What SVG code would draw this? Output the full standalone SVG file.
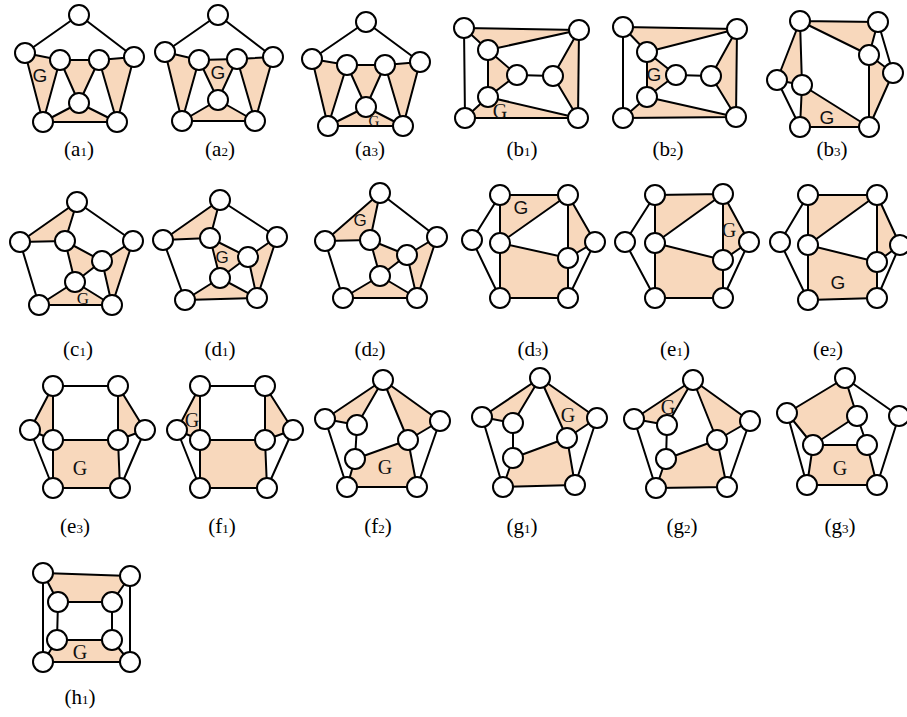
<svg xmlns="http://www.w3.org/2000/svg" width="907" height="717" viewBox="0 0 907 717">
<style>
.f{fill:#F8D8BC;stroke:none}
.e path{fill:none;stroke:#000;stroke-width:2;stroke-linecap:round}
circle{fill:#fff;stroke:#000;stroke-width:2}
.gs{font-family:"Liberation Sans","DejaVu Sans",sans-serif;font-size:19px;text-anchor:middle;dominant-baseline:central;fill:#111}
.gt{font-family:"Liberation Serif","DejaVu Serif",serif;font-size:20px;text-anchor:middle;dominant-baseline:central;fill:#111}
.lb{font-family:"Liberation Serif","DejaVu Serif",serif;font-size:21px;text-anchor:middle;fill:#000}
.lb tspan{font-size:13px}
</style>
<rect width="907" height="717" fill="#fff"/>

<!-- a1 -->
<g id="graph-a1">
<g class="faces"><polygon class="f" points="25,53 60,60 43,122"/><polygon class="f" points="60,60 99,60 79,103"/><polygon class="f" points="99,60 134,57 117,122"/><polygon class="f" points="79,103 43,122 117,122"/></g>
<g id="a1-connectors" class="e"><path d="M79 15L25 53M79 15L134 57M25 53L60 60L99 60L134 57M25 53L43 122M60 60L43 122M60 60L79 103M99 60L79 103M99 60L117 122M134 57L117 122M79 103L43 122M79 103L117 122M43 122L117 122"/></g>
<g id="a1-1"><circle cx="79" cy="15" r="10"/></g><g id="a1-2"><circle cx="25" cy="53" r="10"/></g><g id="a1-3"><circle cx="60" cy="60" r="10"/></g><g id="a1-4"><circle cx="99" cy="60" r="10"/></g><g id="a1-5"><circle cx="134" cy="57" r="10"/></g><g id="a1-6"><circle cx="79" cy="103" r="10"/></g><g id="a1-7"><circle cx="43" cy="122" r="10"/></g><g id="a1-8"><circle cx="117" cy="122" r="10"/></g>
<text class="gs" x="40" y="75">G</text>
</g>

<!-- a2 -->
<g id="graph-a2">
<g class="faces"><polygon class="f" points="165,52 199,60 182,121"/><polygon class="f" points="199,60 237,59 218,100"/><polygon class="f" points="237,59 273,57 255,121"/><polygon class="f" points="218,100 182,121 255,121"/></g>
<g id="a2-connectors" class="e"><path d="M218 15L165 52M218 15L273 57M165 52L199 60L237 59L273 57M165 52L182 121M199 60L182 121M199 60L218 100M237 59L218 100M237 59L255 121M273 57L255 121M218 100L182 121M218 100L255 121M182 121L255 121"/></g>
<g id="a2-1"><circle cx="218" cy="15" r="10"/></g><g id="a2-2"><circle cx="165" cy="52" r="10"/></g><g id="a2-3"><circle cx="199" cy="60" r="10"/></g><g id="a2-4"><circle cx="237" cy="59" r="10"/></g><g id="a2-5"><circle cx="273" cy="57" r="10"/></g><g id="a2-6"><circle cx="218" cy="100" r="10"/></g><g id="a2-7"><circle cx="182" cy="121" r="10"/></g><g id="a2-8"><circle cx="255" cy="121" r="10"/></g>
<text class="gs" x="218" y="72">G</text>
</g>

<!-- a3 -->
<g id="graph-a3">
<g class="faces"><polygon class="f" points="312,59 347,65 328,126"/><polygon class="f" points="347,65 385,65 366,107"/><polygon class="f" points="385,65 420,62 403,126"/><polygon class="f" points="366,107 328,126 403,126"/></g>
<g id="a3-connectors" class="e"><path d="M366 22L312 59M366 22L420 62M312 59L347 65L385 65L420 62M312 59L328 126M347 65L328 126M347 65L366 107M385 65L366 107M385 65L403 126M420 62L403 126M366 107L328 126M366 107L403 126M328 126L403 126"/></g>
<g id="a3-1"><circle cx="366" cy="22" r="10"/></g><g id="a3-2"><circle cx="312" cy="59" r="10"/></g><g id="a3-3"><circle cx="347" cy="65" r="10"/></g><g id="a3-4"><circle cx="385" cy="65" r="10"/></g><g id="a3-5"><circle cx="420" cy="62" r="10"/></g><g id="a3-6"><circle cx="366" cy="107" r="10"/></g><g id="a3-7"><circle cx="328" cy="126" r="10"/></g><g id="a3-8"><circle cx="403" cy="126" r="10"/></g>
<text class="gt" x="374" y="121" style="font-size:15px">G</text>
</g>

<!-- b1 -->
<g id="graph-b1">
<g class="faces"><polygon class="f" points="464,28 579,30 488,50"/><polygon class="f" points="488,50 517,75 488,97"/><polygon class="f" points="579,30 553,76 578,118"/><polygon class="f" points="465,118 488,97 578,118"/></g>
<g id="b1-connectors" class="e"><path d="M464 28L579 30M464 28L465 118M579 30L578 118M465 118L578 118M464 28L488 50M488 50L579 30M488 50L488 97M488 50L517 75M488 97L517 75M517 75L553 76M553 76L579 30M553 76L578 118M488 97L465 118M488 97L578 118"/></g>
<g id="b1-1"><circle cx="464" cy="28" r="10"/></g><g id="b1-2"><circle cx="579" cy="30" r="10"/></g><g id="b1-3"><circle cx="488" cy="50" r="10"/></g><g id="b1-4"><circle cx="517" cy="75" r="10"/></g><g id="b1-5"><circle cx="553" cy="76" r="10"/></g><g id="b1-6"><circle cx="488" cy="97" r="10"/></g><g id="b1-7"><circle cx="465" cy="118" r="10"/></g><g id="b1-8"><circle cx="578" cy="118" r="10"/></g>
<text class="gt" x="500" y="111">G</text>
</g>

<!-- b2 -->
<g id="graph-b2">
<g class="faces"><polygon class="f" points="623,27 737,29 647,52"/><polygon class="f" points="647,52 676,75 647,97"/><polygon class="f" points="737,29 711,76 736,117"/><polygon class="f" points="623,118 647,97 736,117"/></g>
<g id="b2-connectors" class="e"><path d="M623 27L737 29M623 27L623 118M737 29L736 117M623 118L736 117M623 27L647 52M647 52L737 29M647 52L647 97M647 52L676 75M647 97L676 75M676 75L711 76M711 76L737 29M711 76L736 117M647 97L623 118M647 97L736 117"/></g>
<g id="b2-1"><circle cx="623" cy="27" r="10"/></g><g id="b2-2"><circle cx="737" cy="29" r="10"/></g><g id="b2-3"><circle cx="647" cy="52" r="10"/></g><g id="b2-4"><circle cx="676" cy="75" r="10"/></g><g id="b2-5"><circle cx="711" cy="76" r="10"/></g><g id="b2-6"><circle cx="647" cy="97" r="10"/></g><g id="b2-7"><circle cx="623" cy="118" r="10"/></g><g id="b2-8"><circle cx="736" cy="117" r="10"/></g>
<text class="gs" x="654" y="74">G</text>
</g>

<!-- b3 -->
<g id="graph-b3">
<g class="faces"><polygon class="f" points="800,21 878,22 869,55"/><polygon class="f" points="800,21 777,80 802,85"/><polygon class="f" points="869,55 893,73 869,127"/><polygon class="f" points="802,85 800,127 869,127"/></g>
<g id="b3-connectors" class="e"><path d="M800 21L878 22M800 21L777 80M800 21L802 85M800 21L869 55M878 22L869 55M878 22L893 73M869 55L893 73M869 55L869 127M893 73L869 127M777 80L802 85M777 80L800 127M802 85L800 127M802 85L869 127M800 127L869 127"/></g>
<g id="b3-1"><circle cx="800" cy="21" r="10"/></g><g id="b3-2"><circle cx="878" cy="22" r="10"/></g><g id="b3-3"><circle cx="869" cy="55" r="10"/></g><g id="b3-4"><circle cx="893" cy="73" r="10"/></g><g id="b3-5"><circle cx="777" cy="80" r="10"/></g><g id="b3-6"><circle cx="802" cy="85" r="10"/></g><g id="b3-7"><circle cx="800" cy="127" r="10"/></g><g id="b3-8"><circle cx="869" cy="127" r="10"/></g>
<text class="gs" x="827" y="117">G</text>
</g>

<!-- c1 -->
<g id="graph-c1">
<g class="faces"><polygon class="f" points="77,202 20,242 65,241"/><polygon class="f" points="65,241 102,261 75,282"/><polygon class="f" points="133,241 102,261 112,305"/><polygon class="f" points="75,282 39,305 112,305"/></g>
<g id="c1-connectors" class="e"><path d="M77 202L20 242M77 202L133 241M77 202L65 241M20 242L65 241M20 242L39 305M133 241L112 305M133 241L102 261M65 241L102 261M65 241L75 282M102 261L75 282M102 261L112 305M75 282L39 305M75 282L112 305M39 305L112 305"/></g>
<g id="c1-1"><circle cx="77" cy="202" r="10"/></g><g id="c1-2"><circle cx="20" cy="242" r="10"/></g><g id="c1-3"><circle cx="65" cy="241" r="10"/></g><g id="c1-4"><circle cx="133" cy="241" r="10"/></g><g id="c1-5"><circle cx="102" cy="261" r="10"/></g><g id="c1-6"><circle cx="75" cy="282" r="10"/></g><g id="c1-7"><circle cx="39" cy="305" r="10"/></g><g id="c1-8"><circle cx="112" cy="305" r="10"/></g>
<text class="gt" x="83" y="298" style="font-size:17px">G</text>
</g>

<!-- d1 -->
<g id="graph-d1">
<g class="faces"><polygon class="f" points="220,200 163,240 210,238"/><polygon class="f" points="210,238 248,257 220,278"/><polygon class="f" points="277,237 248,257 257,298"/><polygon class="f" points="220,278 185,300 257,298"/></g>
<g id="d1-connectors" class="e"><path d="M220 200L163 240M220 200L277 237M220 200L210 238M163 240L210 238M163 240L185 300M277 237L257 298M277 237L248 257M210 238L248 257M210 238L220 278M248 257L220 278M248 257L257 298M220 278L185 300M220 278L257 298M185 300L257 298"/></g>
<g id="d1-1"><circle cx="220" cy="200" r="10"/></g><g id="d1-2"><circle cx="163" cy="240" r="10"/></g><g id="d1-3"><circle cx="210" cy="238" r="10"/></g><g id="d1-4"><circle cx="277" cy="237" r="10"/></g><g id="d1-5"><circle cx="248" cy="257" r="10"/></g><g id="d1-6"><circle cx="220" cy="278" r="10"/></g><g id="d1-7"><circle cx="185" cy="300" r="10"/></g><g id="d1-8"><circle cx="257" cy="298" r="10"/></g>
<text class="gs" x="222" y="257" style="font-size:17px">G</text>
</g>

<!-- d2 -->
<g id="graph-d2">
<g class="faces"><polygon class="f" points="380,193 325,241 370,240"/><polygon class="f" points="370,240 407,255 380,276"/><polygon class="f" points="437,237 407,255 417,298"/><polygon class="f" points="380,276 343,298 417,298"/></g>
<g id="d2-connectors" class="e"><path d="M380 193L325 241M380 193L437 237M380 193L370 240M325 241L370 240M325 241L343 298M437 237L417 298M437 237L407 255M370 240L407 255M370 240L380 276M407 255L380 276M407 255L417 298M380 276L343 298M380 276L417 298M343 298L417 298"/></g>
<g id="d2-1"><circle cx="380" cy="193" r="10"/></g><g id="d2-2"><circle cx="325" cy="241" r="10"/></g><g id="d2-3"><circle cx="370" cy="240" r="10"/></g><g id="d2-4"><circle cx="437" cy="237" r="10"/></g><g id="d2-5"><circle cx="407" cy="255" r="10"/></g><g id="d2-6"><circle cx="380" cy="276" r="10"/></g><g id="d2-7"><circle cx="343" cy="298" r="10"/></g><g id="d2-8"><circle cx="417" cy="298" r="10"/></g>
<text class="gs" x="360" y="220" style="font-size:17px">G</text>
</g>

<!-- d3 -->
<g id="graph-d3">
<g class="faces"><polygon class="f" points="500,195 568,195 500,243"/><polygon class="f" points="568,195 595,242 568,258"/><polygon class="f" points="500,243 568,258 568,298 500,298"/></g>
<g id="d3-connectors" class="e"><path d="M500 195L568 195M500 195L472 240M500 195L500 243M500 243L568 195M500 243L568 258M500 243L500 298M568 195L568 258M568 195L595 242M595 242L568 258M568 258L568 298M595 242L568 298M472 240L500 298M500 298L568 298"/></g>
<g id="d3-1"><circle cx="500" cy="195" r="10"/></g><g id="d3-2"><circle cx="568" cy="195" r="10"/></g><g id="d3-3"><circle cx="472" cy="240" r="10"/></g><g id="d3-4"><circle cx="500" cy="243" r="10"/></g><g id="d3-5"><circle cx="595" cy="242" r="10"/></g><g id="d3-6"><circle cx="568" cy="258" r="10"/></g><g id="d3-7"><circle cx="500" cy="298" r="10"/></g><g id="d3-8"><circle cx="568" cy="298" r="10"/></g>
<text class="gs" x="521" y="207">G</text>
</g>

<!-- e1 -->
<g id="graph-e1">
<g class="faces"><polygon class="f" points="655,195 723,194 655,243"/><polygon class="f" points="723,194 749,242 723,260"/><polygon class="f" points="655,243 723,260 723,298 655,298"/></g>
<g id="e1-connectors" class="e"><path d="M655 195L723 194M655 195L625 242M655 195L655 243M655 243L723 194M655 243L723 260M655 243L655 298M723 194L723 260M723 194L749 242M749 242L723 260M723 260L723 298M749 242L723 298M625 242L655 298M655 298L723 298"/></g>
<g id="e1-1"><circle cx="655" cy="195" r="10"/></g><g id="e1-2"><circle cx="723" cy="194" r="10"/></g><g id="e1-3"><circle cx="625" cy="242" r="10"/></g><g id="e1-4"><circle cx="655" cy="243" r="10"/></g><g id="e1-5"><circle cx="749" cy="242" r="10"/></g><g id="e1-6"><circle cx="723" cy="260" r="10"/></g><g id="e1-7"><circle cx="655" cy="298" r="10"/></g><g id="e1-8"><circle cx="723" cy="298" r="10"/></g>
<text class="gt" x="729" y="230">G</text>
</g>

<!-- e2 -->
<g id="graph-e2">
<g class="faces"><polygon class="f" points="808,195 877,195 808,245"/><polygon class="f" points="877,195 900,245 877,262"/><polygon class="f" points="808,245 877,262 877,298 808,300"/></g>
<g id="e2-connectors" class="e"><path d="M808 195L877 195M808 195L780 242M808 195L808 245M808 245L877 195M808 245L877 262M808 245L808 300M877 195L877 262M877 195L900 245M900 245L877 262M877 262L877 298M900 245L877 298M780 242L808 300M808 300L877 298"/></g>
<g id="e2-1"><circle cx="808" cy="195" r="10"/></g><g id="e2-2"><circle cx="877" cy="195" r="10"/></g><g id="e2-3"><circle cx="780" cy="242" r="10"/></g><g id="e2-4"><circle cx="808" cy="245" r="10"/></g><g id="e2-5"><circle cx="900" cy="245" r="10"/></g><g id="e2-6"><circle cx="877" cy="262" r="10"/></g><g id="e2-7"><circle cx="808" cy="300" r="10"/></g><g id="e2-8"><circle cx="877" cy="298" r="10"/></g>
<text class="gs" x="838" y="282">G</text>
</g>

<!-- e3 -->
<g id="graph-e3">
<g class="faces"><polygon class="f" points="53,386 30,430 53,440"/><polygon class="f" points="118,386 145,430 118,440"/><polygon class="f" points="53,440 118,440 120,488 53,488"/></g>
<g id="e3-connectors" class="e"><path d="M53 386L118 386M53 386L30 430M53 386L53 440M118 386L118 440M118 386L145 430M30 430L53 440M30 430L53 488M53 440L118 440M53 440L53 488M118 440L145 430M118 440L120 488M145 430L120 488M53 488L120 488"/></g>
<g id="e3-1"><circle cx="53" cy="386" r="10"/></g><g id="e3-2"><circle cx="118" cy="386" r="10"/></g><g id="e3-3"><circle cx="30" cy="430" r="10"/></g><g id="e3-4"><circle cx="53" cy="440" r="10"/></g><g id="e3-5"><circle cx="145" cy="430" r="10"/></g><g id="e3-6"><circle cx="118" cy="440" r="10"/></g><g id="e3-7"><circle cx="53" cy="488" r="10"/></g><g id="e3-8"><circle cx="120" cy="488" r="10"/></g>
<text class="gt" x="80" y="468">G</text>
</g>

<!-- f1 -->
<g id="graph-f1">
<g class="faces"><polygon class="f" points="200,386 177,430 200,440"/><polygon class="f" points="265,386 293,430 265,440"/><polygon class="f" points="200,440 265,440 267,488 200,488"/></g>
<g id="f1-connectors" class="e"><path d="M200 386L265 386M200 386L177 430M200 386L200 440M265 386L265 440M265 386L293 430M177 430L200 440M177 430L200 488M200 440L265 440M200 440L200 488M265 440L293 430M265 440L267 488M293 430L267 488M200 488L267 488"/></g>
<g id="f1-1"><circle cx="200" cy="386" r="10"/></g><g id="f1-2"><circle cx="265" cy="386" r="10"/></g><g id="f1-3"><circle cx="177" cy="430" r="10"/></g><g id="f1-4"><circle cx="200" cy="440" r="10"/></g><g id="f1-5"><circle cx="293" cy="430" r="10"/></g><g id="f1-6"><circle cx="265" cy="440" r="10"/></g><g id="f1-7"><circle cx="200" cy="488" r="10"/></g><g id="f1-8"><circle cx="267" cy="488" r="10"/></g>
<text class="gt" x="192" y="420">G</text>
</g>

<!-- f2 -->
<g id="graph-f2">
<g class="faces"><polygon class="f" points="383,380 325,419 357,425"/><polygon class="f" points="383,380 408,440 440,421"/><polygon class="f" points="355,459 408,440 417,487 347,487"/></g>
<g id="f2-connectors" class="e"><path d="M383 380L325 419M383 380L440 421M383 380L357 425M383 380L408 440M325 419L357 425M325 419L347 487M357 425L355 459M355 459L408 440M355 459L347 487M408 440L440 421M408 440L417 487M440 421L417 487M347 487L417 487"/></g>
<g id="f2-1"><circle cx="383" cy="380" r="10"/></g><g id="f2-2"><circle cx="325" cy="419" r="10"/></g><g id="f2-3"><circle cx="357" cy="425" r="10"/></g><g id="f2-4"><circle cx="440" cy="421" r="10"/></g><g id="f2-5"><circle cx="408" cy="440" r="10"/></g><g id="f2-6"><circle cx="355" cy="459" r="10"/></g><g id="f2-7"><circle cx="347" cy="487" r="10"/></g><g id="f2-8"><circle cx="417" cy="487" r="10"/></g>
<text class="gt" x="385" y="467">G</text>
</g>

<!-- g1 -->
<g id="graph-g1">
<g class="faces"><polygon class="f" points="540,378 482,417 513,423"/><polygon class="f" points="540,378 567,438 597,418"/><polygon class="f" points="513,458 567,438 575,485 503,487"/></g>
<g id="g1-connectors" class="e"><path d="M540 378L482 417M540 378L597 418M540 378L513 423M540 378L567 438M482 417L513 423M482 417L503 487M513 423L513 458M513 458L567 438M513 458L503 487M567 438L597 418M567 438L575 485M597 418L575 485M503 487L575 485"/></g>
<g id="g1-1"><circle cx="540" cy="378" r="10"/></g><g id="g1-2"><circle cx="482" cy="417" r="10"/></g><g id="g1-3"><circle cx="513" cy="423" r="10"/></g><g id="g1-4"><circle cx="597" cy="418" r="10"/></g><g id="g1-5"><circle cx="567" cy="438" r="10"/></g><g id="g1-6"><circle cx="513" cy="458" r="10"/></g><g id="g1-7"><circle cx="503" cy="487" r="10"/></g><g id="g1-8"><circle cx="575" cy="485" r="10"/></g>
<text class="gt" x="568" y="415">G</text>
</g>

<!-- g2 -->
<g id="graph-g2">
<g class="faces"><polygon class="f" points="693,380 634,419 667,425"/><polygon class="f" points="693,380 717,440 750,421"/><polygon class="f" points="666,459 717,440 727,487 656,488"/></g>
<g id="g2-connectors" class="e"><path d="M693 380L634 419M693 380L750 421M693 380L667 425M693 380L717 440M634 419L667 425M634 419L656 488M667 425L666 459M666 459L717 440M666 459L656 488M717 440L750 421M717 440L727 487M750 421L727 487M656 488L727 487"/></g>
<g id="g2-1"><circle cx="693" cy="380" r="10"/></g><g id="g2-2"><circle cx="634" cy="419" r="10"/></g><g id="g2-3"><circle cx="667" cy="425" r="10"/></g><g id="g2-4"><circle cx="750" cy="421" r="10"/></g><g id="g2-5"><circle cx="717" cy="440" r="10"/></g><g id="g2-6"><circle cx="666" cy="459" r="10"/></g><g id="g2-7"><circle cx="656" cy="488" r="10"/></g><g id="g2-8"><circle cx="727" cy="487" r="10"/></g>
<text class="gt" x="668" y="407">G</text>
</g>

<!-- g3 -->
<g id="graph-g3">
<g class="faces"><polygon class="f" points="845,378 787,413 813,445 857,416"/><polygon class="f" points="813,445 867,445 877,485 807,485"/></g>
<g id="g3-connectors" class="e"><path d="M845 378L787 413M845 378L899 416M845 378L857 416M787 413L813 445M787 413L807 485M857 416L813 445M857 416L867 445M813 445L867 445M813 445L807 485M867 445L877 485M899 416L877 485M807 485L877 485"/></g>
<g id="g3-1"><circle cx="845" cy="378" r="10"/></g><g id="g3-2"><circle cx="787" cy="413" r="10"/></g><g id="g3-3"><circle cx="857" cy="416" r="10"/></g><g id="g3-4"><circle cx="899" cy="416" r="10"/></g><g id="g3-5"><circle cx="813" cy="445" r="10"/></g><g id="g3-6"><circle cx="867" cy="445" r="10"/></g><g id="g3-7"><circle cx="807" cy="485" r="10"/></g><g id="g3-8"><circle cx="877" cy="485" r="10"/></g>
<text class="gt" x="840" y="468">G</text>
</g>

<!-- h1 -->
<g id="graph-h1">
<g class="faces"><polygon class="f" points="43,573 130,576 112,602 58,602"/><polygon class="f" points="57,640 112,640 130,662 43,662"/></g>
<g id="h1-connectors" class="e"><path d="M43 573L130 576M43 573L43 662M130 576L130 662M43 662L130 662M43 573L58 602M130 576L112 602M58 602L112 602M58 602L57 640M112 602L112 640M57 640L112 640M57 640L43 662M112 640L130 662"/></g>
<g id="h1-1"><circle cx="43" cy="573" r="10"/></g><g id="h1-2"><circle cx="130" cy="576" r="10"/></g><g id="h1-3"><circle cx="58" cy="602" r="10"/></g><g id="h1-4"><circle cx="112" cy="602" r="10"/></g><g id="h1-5"><circle cx="57" cy="640" r="10"/></g><g id="h1-6"><circle cx="112" cy="640" r="10"/></g><g id="h1-7"><circle cx="43" cy="662" r="10"/></g><g id="h1-8"><circle cx="130" cy="662" r="10"/></g>
<text class="gt" x="80" y="652">G</text>
</g>

<!-- labels -->
<g id="labels">
<text class="lb" x="79" y="156">(a<tspan>1</tspan>)</text>
<text class="lb" x="220" y="156">(a<tspan>2</tspan>)</text>
<text class="lb" x="370" y="156">(a<tspan>3</tspan>)</text>
<text class="lb" x="522" y="156">(b<tspan>1</tspan>)</text>
<text class="lb" x="668" y="156">(b<tspan>2</tspan>)</text>
<text class="lb" x="832" y="156">(b<tspan>3</tspan>)</text>
<text class="lb" x="78" y="356">(c<tspan>1</tspan>)</text>
<text class="lb" x="220" y="356">(d<tspan>1</tspan>)</text>
<text class="lb" x="370" y="356">(d<tspan>2</tspan>)</text>
<text class="lb" x="533" y="356">(d<tspan>3</tspan>)</text>
<text class="lb" x="675" y="356">(e<tspan>1</tspan>)</text>
<text class="lb" x="828" y="356">(e<tspan>2</tspan>)</text>
<text class="lb" x="75" y="533">(e<tspan>3</tspan>)</text>
<text class="lb" x="222" y="533">(f<tspan>1</tspan>)</text>
<text class="lb" x="378" y="533">(f<tspan>2</tspan>)</text>
<text class="lb" x="522" y="533">(g<tspan>1</tspan>)</text>
<text class="lb" x="682" y="533">(g<tspan>2</tspan>)</text>
<text class="lb" x="840" y="533">(g<tspan>3</tspan>)</text>
<text class="lb" x="80" y="704">(h<tspan>1</tspan>)</text>
</g>
</svg>
